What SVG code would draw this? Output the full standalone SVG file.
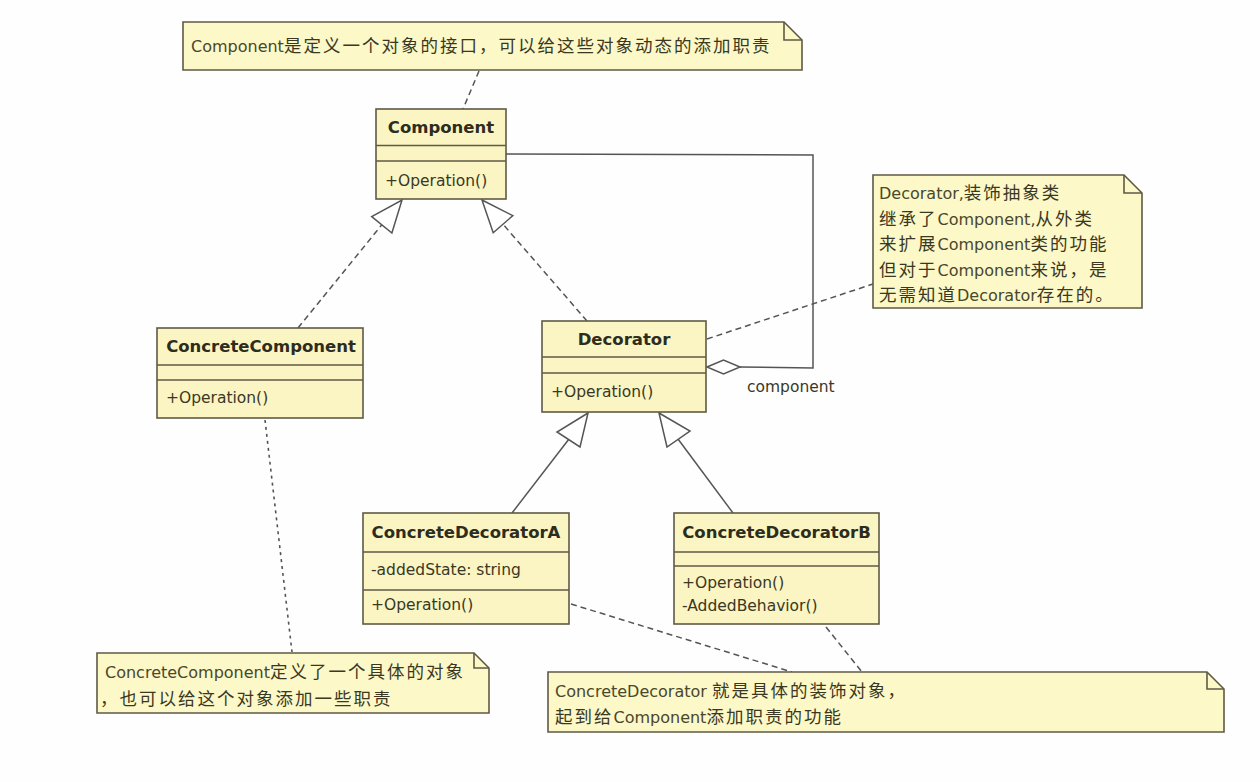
<svg xmlns="http://www.w3.org/2000/svg" width="1260" height="782" viewBox="0 0 1260 782">
<style>
.cls{fill:#faf5c2;stroke:#5f5a45;stroke-width:1.6}
.note{fill:#fcf8c8;stroke:#5f5a45;stroke-width:1.6}
.fold{fill:none;stroke:#5f5a45;stroke-width:1.6}
.div{stroke:#5f5a45;stroke-width:1.4}
.name{font-family:"DejaVu Sans",sans-serif;font-weight:bold;font-size:16.5px;fill:#2e2c1c}
.op{font-family:"DejaVu Sans",sans-serif;font-size:15.5px;fill:#3a3825}
.nt{font-family:"DejaVu Sans","Noto Sans CJK SC",sans-serif;font-size:16px;fill:#4a472c}
.c{font-family:"Noto Sans CJK SC",sans-serif;font-size:17.5px;letter-spacing:2px;fill:#3a3822}
.dash{fill:none;stroke:#555;stroke-width:1.5;stroke-dasharray:6 4}
.dot{fill:none;stroke:#555;stroke-width:1.6;stroke-dasharray:3 4}
.solid{fill:none;stroke:#555;stroke-width:1.5}
.tri{fill:#fff;stroke:#555;stroke-width:1.5}
</style>
<rect width="1260" height="782" fill="#fefefe"/>

<g id="connectors">
  <line class="dash" x1="479" y1="71" x2="463" y2="109"/>
  <line class="dash" x1="298" y1="328" x2="381.8" y2="224.8"/>
  <polygon class="tri" points="402,200 391.9,233 371.7,216.6"/>
  <line class="dash" x1="587" y1="321" x2="503" y2="224.2"/>
  <polygon class="tri" points="482,200 512.8,215.7 493.2,232.7"/>
  <polyline class="solid" points="506,154 813,155 813,368 740,367"/>
  <polygon class="tri" points="707,367 723.5,360 740,367 723.5,374"/>
  <text class="op" x="747" y="392">component</text>
  <line class="dash" x1="707" y1="339" x2="873" y2="284"/>
  <line class="solid" x1="512" y1="513" x2="569" y2="439"/>
  <polygon class="tri" points="588,413 557,432 580,447"/>
  <line class="solid" x1="733" y1="513" x2="678" y2="439"/>
  <polygon class="tri" points="659,413 690,431 667,447"/>
  <line class="dot" x1="265" y1="420" x2="292" y2="652"/>
  <line class="dash" x1="571" y1="604" x2="792" y2="672"/>
  <line class="dash" x1="826" y1="627" x2="862" y2="672"/>
</g>

<g id="note-top">
  <polygon class="note" points="183,22 784,22 802,40 802,70 183,70"/>
  <polyline class="fold" points="784,22 784,40 802,40"/>
  <text class="nt" x="191" y="52">Component<tspan class="c">是定义一个对象的接口，可以给这些对象动态的添加职责</tspan></text>
</g>

<g id="Component">
  <rect class="cls" x="376" y="109" width="130" height="90"/>
  <line class="div" x1="376" y1="145.5" x2="506" y2="145.5"/>
  <line class="div" x1="376" y1="161" x2="506" y2="161"/>
  <text class="name" x="441" y="133" text-anchor="middle">Component</text>
  <text class="op" x="385" y="186">+Operation()</text>
</g>

<g id="ConcreteComponent">
  <rect class="cls" x="157" y="328" width="206" height="90"/>
  <line class="div" x1="157" y1="365" x2="363" y2="365"/>
  <line class="div" x1="157" y1="380" x2="363" y2="380"/>
  <text class="name" x="261" y="352" text-anchor="middle">ConcreteComponent</text>
  <text class="op" x="166" y="403">+Operation()</text>
</g>

<g id="Decorator">
  <rect class="cls" x="542" y="321" width="164" height="91"/>
  <line class="div" x1="542" y1="357" x2="706" y2="357"/>
  <line class="div" x1="542" y1="373" x2="706" y2="373"/>
  <text class="name" x="624" y="345" text-anchor="middle">Decorator</text>
  <text class="op" x="551" y="397">+Operation()</text>
</g>

<g id="note-decorator">
  <polygon class="note" points="873,175 1124,175 1142,193 1142,308 873,308"/>
  <polyline class="fold" points="1124,175 1124,193 1142,193"/>
  <text class="nt" x="879" y="199">Decorator,<tspan class="c">装饰抽象类</tspan></text>
  <text class="nt" x="879" y="224.5"><tspan class="c">继承了</tspan>Component,<tspan class="c">从外类</tspan></text>
  <text class="nt" x="879" y="250"><tspan class="c">来扩展</tspan>Component<tspan class="c">类的功能</tspan></text>
  <text class="nt" x="879" y="275.5"><tspan class="c">但对于</tspan>Component<tspan class="c">来说，是</tspan></text>
  <text class="nt" x="879" y="301"><tspan class="c">无需知道</tspan>Decorator<tspan class="c">存在的。</tspan></text>
</g>

<g id="ConcreteDecoratorA">
  <rect class="cls" x="363" y="513" width="206" height="111"/>
  <line class="div" x1="363" y1="552" x2="569" y2="552"/>
  <line class="div" x1="363" y1="590" x2="569" y2="590"/>
  <text class="name" x="466" y="538" text-anchor="middle">ConcreteDecoratorA</text>
  <text class="op" x="371" y="575">-addedState: string</text>
  <text class="op" x="371" y="610">+Operation()</text>
</g>

<g id="ConcreteDecoratorB">
  <rect class="cls" x="674" y="513" width="205" height="111"/>
  <line class="div" x1="674" y1="552" x2="879" y2="552"/>
  <line class="div" x1="674" y1="566" x2="879" y2="566"/>
  <text class="name" x="776.5" y="538" text-anchor="middle">ConcreteDecoratorB</text>
  <text class="op" x="682" y="588">+Operation()</text>
  <text class="op" x="682" y="611">-AddedBehavior()</text>
</g>

<g id="note-concretecomponent">
  <polygon class="note" points="97,653 474,653 489,668 489,713 97,713"/>
  <polyline class="fold" points="474,653 474,668 489,668"/>
  <text class="nt" x="105" y="678">ConcreteComponent<tspan class="c">定义了一个具体的对象</tspan></text>
  <text class="nt" x="100" y="705"><tspan class="c">，也可以给这个对象添加一些职责</tspan></text>
</g>

<g id="note-concretedecorator">
  <polygon class="note" points="548,672 1207,672 1224,689 1224,732 548,732"/>
  <polyline class="fold" points="1207,672 1207,689 1224,689"/>
  <text class="nt" x="555" y="697">ConcreteDecorator <tspan class="c">就是具体的装饰对象，</tspan></text>
  <text class="nt" x="555" y="723"><tspan class="c">起到给</tspan>Component<tspan class="c">添加职责的功能</tspan></text>
</g>
</svg>
